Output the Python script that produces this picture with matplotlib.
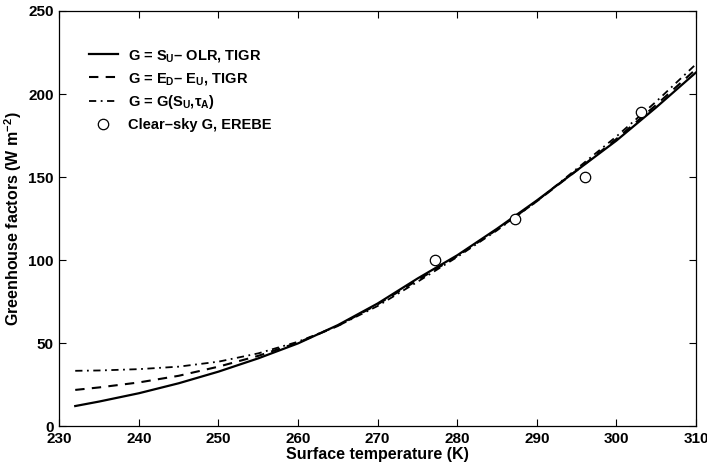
import matplotlib
matplotlib.use("Agg")
from matplotlib import pyplot as plt

plt.rcParams["font.family"] = ["Liberation Sans", "DejaVu Sans"]
plt.rcParams["font.weight"] = "bold"
plt.rcParams["axes.labelweight"] = "bold"
plt.rcParams["mathtext.fontset"] = "custom"
plt.rcParams["mathtext.rm"] = "Liberation Sans:bold"
plt.rcParams["mathtext.it"] = "Liberation Sans:bold"
plt.rcParams["mathtext.bf"] = "Liberation Sans:bold"
plt.rcParams["mathtext.default"] = "rm"

# surface temperature grid (K)
temps = [232, 235, 240, 245, 250, 255, 260, 265, 270, 275,
         280, 285, 290, 295, 300, 305, 310]

# G = S_U - OLR, TIGR
g_olr = [12.3, 15, 20, 26, 33, 41, 50, 61, 74, 89,
         103, 119, 136, 154, 172, 192, 213]
# G = E_D - E_U, TIGR
g_flux = [22, 23.5, 26.5, 30.5, 36, 42.5, 50.5, 60.5, 73.5, 88,
          102.5, 118.5, 135.5, 154, 173, 193.5, 215]
# G = G(S_U, tau_A)
g_param = [33.5, 33.7, 34.5, 36, 39, 44, 51, 60.5, 72.5, 87,
           102, 118, 135.5, 155, 174.5, 195.5, 218]

# clear-sky G from EREBE
erebe_t = [277.2, 287.3, 296.1, 303.1]
erebe_g = [100, 125, 150, 189]

fig = plt.figure(figsize=(7.07, 4.66), dpi=100)
ax = fig.add_axes([0.0839, 0.0848, 0.9005, 0.8916])

ax.plot(temps, g_olr, color="black", lw=1.6, ls="-",
        label=r"G = S$_{U}$– OLR, TIGR")
ax.plot(temps, g_flux, color="black", lw=1.5, ls=(0, (4.5, 3.5)),
        label=r"G = E$_{D}$– E$_{U}$, TIGR")
ax.plot(temps, g_param, color="black", lw=1.3, ls=(0, (4, 2.5, 1, 2.5)),
        label=r"G = G(S$_{U}$,$\tau_{A}$)")
ax.plot(erebe_t, erebe_g, ls="none", marker="o", ms=7.5, mfc="white",
        mec="black", mew=0.9, label="Clear–sky G, EREBE")

ax.set_xlim(230, 310)
ax.set_ylim(0, 250)
ax.set_xticks(range(230, 311, 10))
ax.set_yticks(range(0, 251, 50))
ax.tick_params(direction="in", length=5, width=0.8, top=True, right=True,
               labelsize=11, pad=4)
for spine in ax.spines.values():
    spine.set_linewidth(0.9)

ax.set_xlabel("Surface temperature (K)", fontsize=11.5, labelpad=1)
ax.set_ylabel(r"Greenhouse factors (W m$^{-2}$)", fontsize=11.5, labelpad=3)

ax.legend(loc="upper left", bbox_to_anchor=(0.037, 0.925), frameon=False,
          fontsize=10.5, handlelength=2.0, handletextpad=0.7,
          labelspacing=0.45, borderaxespad=0)

fig.savefig("out.png", dpi=100)
